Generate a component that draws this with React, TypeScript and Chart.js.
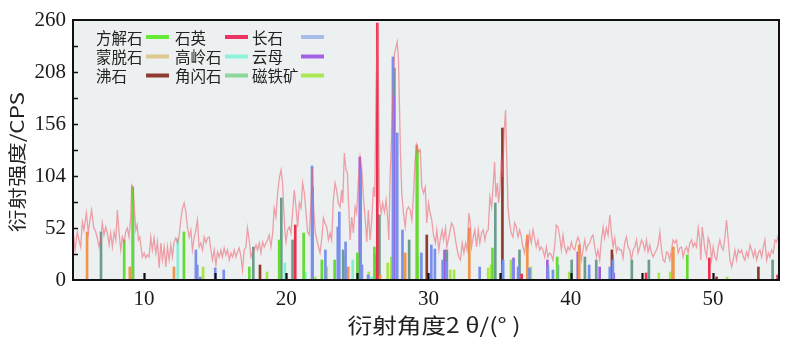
import React, { useEffect, useRef } from "react";
import { Chart, registerables } from "chart.js";

Chart.register(...registerables);

const X_MIN = 5;
const X_MAX = 54.65;
const Y_MIN = 0;
const Y_MAX = 260;
const yTickValues = [0, 52, 104, 156, 208, 260];
const xTickValues = [10, 20, 30, 40, 50];
const xTitle = "衍射角度2 θ/(° )";
const yTitle = "衍射强度/CPS";

// measured XRD pattern (2θ, intensity)
const patternAngle = [
  5.0, 5.14, 5.3, 5.42, 5.54, 5.66, 5.77, 5.94, 6.08, 6.17, 6.31, 6.45, 6.6, 6.71, 6.83, 6.95, 7.06, 7.18, 7.3, 7.42,
  7.54, 7.65, 7.77, 7.89, 8.01, 8.12, 8.24, 8.36, 8.47, 8.59, 8.71, 8.82, 8.94, 9.06, 9.13, 9.23, 9.32, 9.42, 9.51, 9.6,
  9.7, 9.79, 9.88, 10.0, 10.12, 10.23, 10.35, 10.47, 10.58, 10.7, 10.82, 10.94, 11.06, 11.18, 11.29, 11.41, 11.53, 11.64, 11.76, 11.88,
  11.99, 12.11, 12.23, 12.35, 12.46, 12.58, 12.7, 12.82, 12.94, 13.05, 13.17, 13.29, 13.4, 13.52, 13.64, 13.75, 13.87, 13.99, 14.11, 14.23,
  14.35, 14.46, 14.58, 14.7, 14.81, 14.93, 15.05, 15.16, 15.28, 15.4, 15.51, 15.63, 15.75, 15.87, 15.99, 16.1, 16.22, 16.34, 16.46, 16.57,
  16.69, 16.81, 16.92, 17.04, 17.16, 17.27, 17.39, 17.51, 17.63, 17.75, 17.87, 17.98, 18.1, 18.22, 18.33, 18.45, 18.57, 18.68, 18.8, 18.92,
  19.04, 19.15, 19.27, 19.39, 19.51, 19.63, 19.74, 19.81, 19.91, 19.98, 20.09, 20.21, 20.33, 20.44, 20.56, 20.68, 20.8, 20.92, 21.04, 21.15,
  21.27, 21.39, 21.5, 21.62, 21.74, 21.83, 21.92, 22.04, 22.2, 22.37, 22.51, 22.61, 22.72, 22.84, 22.96, 23.08, 23.19, 23.31, 23.43, 23.54,
  23.66, 23.78, 23.9, 23.97, 24.08, 24.2, 24.3, 24.39, 24.49, 24.6, 24.72, 24.84, 24.95, 25.07, 25.19, 25.3, 25.42, 25.54, 25.66, 25.77,
  25.89, 26.01, 26.13, 26.22, 26.32, 26.41, 26.48, 26.55, 26.67, 26.78, 26.9, 27.02, 27.14, 27.21, 27.3, 27.39, 27.49, 27.61, 27.7, 27.8,
  27.89, 27.96, 28.03, 28.12, 28.24, 28.36, 28.47, 28.59, 28.71, 28.83, 28.94, 29.06, 29.18, 29.3, 29.42, 29.53, 29.65, 29.77, 29.88, 30.0,
  30.12, 30.23, 30.35, 30.49, 30.59, 30.73, 30.82, 30.96, 31.06, 31.2, 31.29, 31.43, 31.53, 31.62, 31.76, 31.9, 32.02, 32.13, 32.25, 32.37,
  32.49, 32.61, 32.72, 32.84, 32.94, 33.03, 33.15, 33.26, 33.38, 33.5, 33.61, 33.73, 33.85, 33.97, 34.08, 34.2, 34.32, 34.44, 34.56, 34.65,
  34.74, 34.84, 34.93, 35.02, 35.12, 35.21, 35.33, 35.42, 35.49, 35.59, 35.7, 35.82, 35.94, 36.06, 36.18, 36.29, 36.41, 36.53, 36.64, 36.76,
  36.88, 37.0, 37.11, 37.23, 37.35, 37.46, 37.58, 37.7, 37.82, 37.93, 38.05, 38.17, 38.29, 38.4, 38.52, 38.64, 38.75, 38.87, 38.99, 39.11,
  39.23, 39.35, 39.46, 39.58, 39.7, 39.81, 39.93, 40.05, 40.16, 40.28, 40.4, 40.51, 40.63, 40.75, 40.87, 40.99, 41.1, 41.22, 41.34, 41.46,
  41.57, 41.69, 41.81, 41.92, 42.04, 42.16, 42.28, 42.39, 42.51, 42.63, 42.75, 42.87, 42.98, 43.1, 43.22, 43.33, 43.45, 43.57, 43.68, 43.8,
  43.92, 44.04, 44.15, 44.27, 44.39, 44.51, 44.63, 44.74, 44.86, 44.98, 45.09, 45.21, 45.33, 45.44, 45.56, 45.68, 45.8, 45.92, 46.03, 46.15,
  46.27, 46.39, 46.5, 46.62, 46.74, 46.85, 46.97, 47.09, 47.2, 47.32, 47.44, 47.56, 47.68, 47.8, 47.91, 48.03, 48.15, 48.26, 48.38, 48.5,
  48.61, 48.73, 48.85, 48.97, 49.08, 49.15, 49.25, 49.34, 49.44, 49.56, 49.67, 49.79, 49.91, 50.02, 50.14, 50.26, 50.37, 50.49, 50.61, 50.73,
  50.85, 50.96, 51.08, 51.2, 51.32, 51.43, 51.55, 51.67, 51.78, 51.9, 52.02, 52.14, 52.25, 52.37, 52.49, 52.61, 52.73, 52.85, 52.96, 53.08,
  53.2, 53.31, 53.43, 53.55, 53.66, 53.78, 53.9, 54.01, 54.13, 54.25, 54.37, 54.48, 54.6,
];
const patternIntensity = [
  50, 30, 48, 40, 33, 58, 50, 67, 47, 58, 70, 53, 48, 42, 33, 40, 57, 45, 53, 47,
  35, 47, 33, 48, 40, 70, 47, 30, 43, 38, 48, 52, 43, 63, 95, 93, 70, 50, 55, 40,
  43, 32, 23, 27, 22, 25, 23, 43, 30, 42, 27, 38, 12, 37, 20, 33, 13, 33, 20, 35,
  23, 38, 42, 37, 43, 60, 72, 77, 68, 53, 43, 50, 30, 42, 50, 60, 33, 37, 30, 43,
  37, 42, 43, 30, 20, 30, 15, 28, 23, 30, 23, 32, 25, 30, 20, 27, 23, 30, 23, 28,
  32, 23, 10, 30, 33, 52, 40, 23, 28, 30, 35, 30, 37, 27, 38, 33, 37, 40, 45, 33,
  47, 72, 63, 87, 102, 110, 97, 73, 47, 38, 50, 53, 47, 67, 90, 73, 53, 77, 72, 97,
  87, 67, 48, 45, 80, 112, 73, 47, 37, 27, 43, 62, 57, 53, 40, 47, 40, 80, 97, 90,
  77, 73, 90, 77, 127, 110, 107, 73, 40, 63, 47, 73, 67, 100, 123, 113, 83, 63, 38, 70,
  40, 60, 93, 83, 193, 257, 193, 80, 67, 77, 68, 80, 60, 40, 103, 137, 183, 227, 232, 238,
  220, 173, 127, 87, 67, 53, 70, 73, 70, 60, 83, 120, 135, 128, 130, 93, 87, 93, 57, 77,
  67, 60, 45, 37, 50, 30, 40, 50, 40, 52, 33, 43, 50, 57, 53, 40, 30, 23, 20, 37,
  27, 37, 30, 67, 57, 33, 43, 50, 33, 50, 37, 47, 50, 40, 48, 50, 83, 73, 97, 118,
  83, 97, 77, 90, 122, 103, 150, 170, 130, 73, 57, 47, 43, 57, 53, 43, 50, 43, 33, 27,
  40, 33, 47, 37, 50, 42, 33, 40, 30, 33, 30, 23, 33, 23, 27, 25, 20, 33, 55, 53,
  43, 30, 45, 33, 27, 33, 30, 38, 32, 30, 38, 43, 38, 20, 30, 40, 30, 35, 37, 43,
  45, 33, 23, 30, 20, 40, 53, 42, 52, 45, 65, 47, 33, 42, 28, 33, 30, 30, 22, 37,
  43, 33, 30, 20, 30, 33, 40, 27, 33, 40, 37, 30, 40, 28, 35, 27, 23, 27, 30, 35,
  48, 30, 20, 18, 28, 27, 20, 30, 40, 37, 40, 27, 32, 33, 23, 30, 33, 27, 37, 40,
  33, 37, 33, 52, 40, 20, 53, 43, 30, 23, 42, 37, 20, 33, 23, 20, 33, 40, 33, 30,
  43, 60, 40, 20, 13, 20, 30, 20, 30, 27, 30, 23, 20, 28, 23, 35, 30, 23, 30, 20,
  27, 30, 23, 33, 40, 20, 27, 23, 30, 27, 40, 38, 45,
];

// reference peak sticks per mineral: [2θ, intensity]
const calcitePeaks = [[8.6, 40], [9.2, 93], [12.8, 48], [17.4, 13], [19.5, 40], [21.22, 47], [22.5, 20], [23.4, 20], [25.0, 27], [26.2, 33], [29.22, 130], [34.5, 32], [39.05, 23], [48.2, 25]];
const quartzPeaks = [[20.63, 55], [26.4, 257], [36.55, 6], [45.3, 7], [49.75, 22], [54.55, 5]];
const feldsparPeaks = [[13.64, 30], [13.74, 15], [13.95, 3], [15.0, 12], [15.6, 10], [21.81, 114], [22.75, 30], [23.62, 53], [23.73, 68], [24.17, 38], [25.23, 110], [25.32, 15], [25.75, 5], [27.5, 223], [27.8, 147], [28.17, 50], [29.5, 27], [30.2, 35], [30.45, 31], [31.0, 20], [31.27, 18], [33.6, 13], [35.25, 20], [35.95, 20], [36.3, 13], [37.1, 12], [38.4, 14], [38.75, 10], [39.1, 15], [41.3, 15], [42.75, 13], [42.97, 20]];
const montmorillonitePeaks = [[5.99, 48], [9.0, 13], [12.1, 13], [24.35, 13], [26.6, 5], [28.36, 27], [29.17, 135], [32.87, 52], [36.95, 45], [40.6, 35], [47.22, 33]];
const kaolinitePeaks = [[12.37, 42], [19.9, 17], [21.35, 8], [24.67, 20], [26.0, 3], [38.44, 8]];
const micaPeaks = [[21.84, 93], [23.67, 30], [25.17, 123], [27.56, 183], [31.13, 30], [35.22, 15], [35.98, 22], [38.36, 20], [40.5, 28], [42.04, 13], [43.03, 7]];
const zeolitePeaks = [[18.15, 15], [29.88, 45], [35.2, 152], [42.9, 30], [50.26, 3], [53.2, 13]];
const amphibolePeaks = [[6.97, 48], [9.22, 65], [17.68, 33], [19.65, 82], [20.44, 40], [24.0, 30], [25.19, 63], [26.24, 25], [26.55, 65], [27.6, 212], [28.64, 40], [31.29, 30], [34.7, 77], [36.4, 30], [40.07, 20], [41.0, 23], [41.8, 20], [42.93, 25], [44.3, 20], [45.5, 20], [47.18, 27], [54.2, 20]];
const magnetitePeaks = [[14.15, 13], [18.64, 8], [22.04, 3], [22.85, 13], [24.05, 23], [25.8, 8], [26.45, 20], [27.13, 17], [27.39, 23], [29.25, 23], [31.53, 10], [31.8, 10], [34.2, 12], [34.4, 15], [35.8, 20], [37.2, 13], [39.9, 8], [41.3, 5], [46.2, 7], [47.0, 8], [51.0, 3]];

const mineralNames = ["方解石", "石英", "长石", "蒙脱石", "高岭石", "云母", "沸石", "角闪石", "磁铁矿"];
const mineralPeaks = [calcitePeaks, quartzPeaks, feldsparPeaks, montmorillonitePeaks, kaolinitePeaks, micaPeaks, zeolitePeaks, amphibolePeaks, magnetitePeaks];
const barColors = ["#62dc30", "#ee2e4e", "#7890ec", "#f0964a", "#86eed4", "#a25ee2", "#8e3c2c", "#6c9c8c", "#a6e646"];
const swatchColors = ["#66ec36", "#ec3462", "#a8bcea", "#dcc890", "#8cf2da", "#a262e8", "#8e3c32", "#8cd89c", "#aae852"];

const SERIF = '"Liberation Serif", "Times New Roman", serif';
const CJK = '"Noto Sans CJK SC", "Noto Sans", sans-serif';

const plotBgPlugin = {
  id: "plotBg",
  beforeDatasetsDraw(chart: any) {
    const { ctx, chartArea: a } = chart;
    ctx.save();
    ctx.fillStyle = "#ecf0f0";
    ctx.fillRect(a.left, a.top, a.right - a.left, a.bottom - a.top);
    ctx.restore();
  },
};

const frameAndTextPlugin = {
  id: "frameText",
  afterDraw(chart: any) {
    const { ctx, chartArea: a, scales } = chart;
    const xs = scales.x;
    const ys = scales.y;
    ctx.save();
    // inward ticks
    ctx.strokeStyle = "#111";
    ctx.lineWidth = 2.2;
    for (let v = 10; v <= 50; v += 5) {
      const px = Math.round(xs.getPixelForValue(v)) + 0.5;
      ctx.beginPath();
      ctx.moveTo(px, a.bottom);
      ctx.lineTo(px, a.bottom - 7);
      ctx.stroke();
    }
    ctx.lineWidth = 1.5;
    for (let v = 26; v < Y_MAX; v += 26) {
      const py = Math.round(ys.getPixelForValue(v)) + 0.5;
      ctx.beginPath();
      ctx.moveTo(a.left, py);
      ctx.lineTo(a.left + 5, py);
      ctx.stroke();
    }
    // frame
    ctx.lineWidth = 2;
    ctx.strokeRect(a.left, a.top, a.right - a.left, a.bottom - a.top);

    // legend: label then swatch
    const colText = [96, 175, 252];
    const colSwatch = [146, 225, 301];
    const rowY = [37, 56.5, 75.5];
    ctx.font = `15.5px ${CJK}`;
    ctx.textBaseline = "middle";
    ctx.textAlign = "left";
    mineralNames.forEach((name, i) => {
      const r = Math.floor(i / 3);
      const c = i % 3;
      ctx.fillStyle = "#222";
      ctx.fillText(name, colText[c], rowY[r] + 1);
      ctx.fillStyle = swatchColors[i];
      ctx.fillRect(colSwatch[c], rowY[r] - 2, 23, 4);
    });

    // axis titles
    ctx.fillStyle = "#222";
    ctx.font = `19px ${CJK}`;
    ctx.textAlign = "center";
    ctx.textBaseline = "middle";
    const xw = ctx.measureText(xTitle).width;
    ctx.save();
    ctx.translate(434, 325);
    ctx.scale(173 / xw, 1.1);
    ctx.fillText(xTitle, 0, 0);
    ctx.restore();

    ctx.font = `18px ${CJK}`;
    const yw = ctx.measureText(yTitle).width;
    ctx.save();
    ctx.translate(17, 162);
    ctx.rotate(-Math.PI / 2);
    ctx.scale(140 / yw, 1);
    ctx.fillText(yTitle, 0, 0);
    ctx.restore();

    ctx.restore();
  },
};

export default function App() {
  const canvasRef = useRef<HTMLCanvasElement | null>(null);

  useEffect(() => {
    document.body.style.margin = "0";
    const canvas = canvasRef.current;
    if (!canvas) return;

    const lineDataset: any = {
      type: "line",
      label: "XRD",
      data: patternAngle.map((x, i) => ({ x, y: patternIntensity[i] })),
      borderColor: "rgba(238,98,112,0.58)",
      borderWidth: 1.3,
      pointRadius: 0,
      tension: 0,
      fill: false,
    };
    const barDatasets: any[] = mineralNames.map((name, i) => ({
      type: "bar",
      label: name,
      data: mineralPeaks[i].map(([x, y]) => ({ x, y })),
      backgroundColor: barColors[i],
      borderWidth: 0,
      barThickness: 2,
      grouped: false,
    }));

    const chart = new Chart(canvas, {
      type: "bar",
      data: { datasets: [lineDataset, ...barDatasets] },
      options: {
        animation: false,
        responsive: false,
        maintainAspectRatio: false,
        events: [],
        layout: { padding: { top: 20, right: 21, left: 0, bottom: 0 } },
        plugins: { legend: { display: false }, tooltip: { enabled: false } },
        scales: {
          x: {
            type: "linear",
            min: X_MIN,
            max: X_MAX,
            offset: false,
            grid: { display: false, drawTicks: false },
            border: { display: false },
            ticks: {
              padding: 7,
              color: "#1a1a1a",
              autoSkip: false,
              maxRotation: 0,
              font: { family: SERIF, size: 21 },
              callback: (v: any) => String(v),
            },
            afterBuildTicks: (s: any) => {
              s.ticks = xTickValues.map((v) => ({ value: v }));
            },
            afterFit: (s: any) => {
              s.height = 75;
            },
          },
          y: {
            type: "linear",
            min: Y_MIN,
            max: Y_MAX,
            grid: { display: false, drawTicks: false },
            border: { display: false },
            ticks: {
              padding: 7,
              color: "#1a1a1a",
              autoSkip: false,
              font: { family: SERIF, size: 21 },
              callback: (v: any) => String(v),
            },
            afterBuildTicks: (s: any) => {
              s.ticks = yTickValues.map((v) => ({ value: v }));
            },
            afterFit: (s: any) => {
              s.width = 73;
            },
          },
        },
      },
      plugins: [plotBgPlugin, frameAndTextPlugin],
    } as any);

    return () => chart.destroy();
  }, []);

  return (
    <div style={{ position: "absolute", left: 0, top: 0, width: 800, height: 355, background: "#fff" }}>
      <canvas ref={canvasRef} width={800} height={355} style={{ display: "block", width: 800, height: 355 }} />
    </div>
  );
}
